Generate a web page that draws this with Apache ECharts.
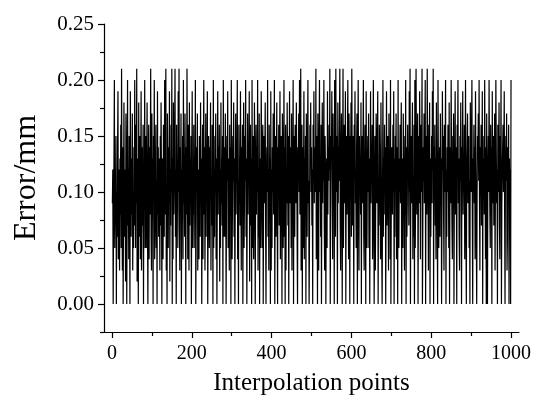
<!DOCTYPE html>
<html>
<head>
<meta charset="utf-8">
<script src="https://cdn.jsdelivr.net/npm/echarts@6/dist/echarts.min.js"></script>
<style>
html,body{margin:0;padding:0;background:#fff;}
#chart{width:537px;height:396px;}
</style>
</head>
<body>
<div id="chart"></div>
<script>
// Error (mm) at each interpolation point 1..1000 (read/estimated from the picture)
const errors = [
.09,.12,0,.08,.13,.20,.05,.11,.07,.15,0,.10,.06,.14,.19,.04,.12,.09,.03,.13,
.08,.16,.05,.21,.11,.03,.14,0,.09,.18,.06,.12,.10,.02,.17,.13,0,.08,.20,.07,
.12,.04,.15,.09,0,.19,.11,.06,.13,.08,.17,.03,.10,.05,.14,.07,.20,.12,.05,.16,
.09,.21,.02,.13,.10,0,.18,.06,.12,.15,.04,.11,.19,.03,.08,.14,.07,.16,0,.12,
.10,.20,.05,.09,.15,.05,.13,.18,.07,0,.11,.16,.04,.14,.08,.12,.21,.06,.03,.17,
.09,.13,0,.15,.10,.20,.04,.07,.12,.16,.05,.11,0,.19,.08,.14,.06,.13,.10,.03,
.15,.07,.18,.11,0,.13,.09,.04,.16,.12,.06,.20,.08,.14,.21,.03,.10,0,.17,.11,
.05,.14,.09,.19,.02,.12,.07,.16,.10,.21,0,.13,.04,.18,.08,.11,.15,.21,.06,.12,
0,.16,.09,.13,.05,.19,.10,.21,.07,.03,.14,.11,.17,0,.12,.08,.15,.04,.20,.09,
.13,.06,.17,.11,0,.14,.08,.21,.12,.04,.16,.10,.03,.18,.07,.13,.09,.15,0,.11,
.19,.05,.12,.08,.16,.05,.13,.10,.20,0,.07,.14,.11,.17,.03,.12,.09,.04,.15,.10,
.06,.18,.11,.13,0,.09,.16,.04,.12,.20,.08,.14,.03,.10,.17,.06,.13,.11,.19,0,
.08,.15,.12,.05,.14,.10,.18,.03,.11,.07,.16,.13,0,.20,.05,.12,.06,.15,.10,.17,
.04,.13,0,.11,.19,.08,.14,.10,.16,.02,.12,.05,.18,.09,.13,.07,.15,0,.20,.06,
.10,.14,.06,.17,.12,0,.09,.15,.11,.19,.05,.13,.08,.03,.16,.10,.14,0,.20,.12,
.04,.09,.15,.11,.18,.06,.13,0,.10,.17,.08,.14,.12,.20,.04,.11,0,.16,.09,.13,
.07,.19,.11,.03,.14,.10,.16,0,.12,.18,.05,.09,.15,.11,.20,.06,.13,0,.10,.17,
.08,.14,.12,.19,.02,.11,.16,.07,.13,0,.20,.05,.12,.15,.04,.10,.18,.13,0,.11,
.16,.08,.14,.10,.20,.03,.12,.06,.17,0,.13,.05,.09,.19,.14,.05,.12,.16,0,.10,
.15,.09,.13,.18,.07,0,.11,.14,.10,.20,.06,.12,.03,.16,.09,.13,0,.19,.03,.12,
.05,.14,.10,.17,.08,.13,.20,0,.11,.15,.06,.12,.18,.09,0,.14,.11,.16,.07,.13,
.19,.04,.10,.15,.12,0,.17,.13,.05,.11,.20,.06,.14,0,.16,.03,.12,.09,.18,.13,
.07,.15,0,.11,.19,.09,.14,.12,.05,.17,.03,.10,.13,.20,0,.15,.11,.06,.16,.12,
.09,.18,.13,.06,0,.14,.11,.17,.10,.20,.08,.13,.21,.03,.12,.16,0,.14,.05,.11,
.19,.04,.13,.10,.15,0,.17,.12,.06,.14,.20,.09,.11,0,.06,.16,.13,.18,.10,.14,
.07,.12,0,.16,.11,.19,.09,.14,.13,.10,.21,.04,.15,.12,0,.17,.11,.03,.14,.20,
.10,.13,.06,.16,0,.12,.18,.09,.14,.11,.20,.07,.03,.15,.12,0,.10,.13,.05,.19,
.08,.14,.11,.16,.12,.21,0,.10,.15,.13,.19,.09,.04,.17,.11,.14,0,.20,.12,.06,
.21,.10,.15,.12,0,.18,.09,.14,.11,.16,.21,.07,.03,.13,.17,.10,0,.12,.21,.05,
.11,.16,.09,.13,.19,0,.12,.15,.08,.14,.20,.10,.04,.17,.12,0,.15,.11,.18,.06,
.21,.12,.07,.15,.10,0,.16,.13,.19,.09,.11,.05,.14,.17,0,.12,.20,.10,.03,.15,
.11,.13,.08,.18,0,.12,.15,.09,.14,.20,.06,.03,.11,.16,.10,0,.19,.08,.05,.12,
.15,.10,.17,.05,.13,0,.11,.19,.09,.14,.12,.16,.04,.08,.20,.11,0,.06,.15,.03,
.10,.17,.12,.09,.14,.19,0,.11,.07,.16,.13,.10,.04,.18,.12,.05,0,.09,.20,.06,
.13,.08,.16,.11,.14,0,.10,.19,.07,.12,.15,.09,.03,.17,.11,.13,.04,.20,0,.10,
.14,.12,.08,.16,.10,.19,0,.13,.06,.15,.11,.17,.04,.09,.14,0,.20,.07,.05,.13,
.10,.16,.09,.14,.18,0,.11,.13,.05,.17,.12,.10,.03,.15,.08,.20,0,.14,.06,.09,
.16,.11,.13,.07,.19,.10,.21,0,.12,.15,.09,.14,.18,.04,.11,.06,.16,0,.20,.05,
.10,.21,.14,.08,.12,.17,0,.11,.15,.09,.19,.13,.04,.16,.10,.12,.21,0,.07,.14,
.11,.17,.09,.13,.20,0,.12,.15,.08,.21,.14,.10,.03,.16,.12,.18,0,.13,.06,.11,
.15,.09,.19,.12,.21,0,.14,.10,.16,.07,.13,.04,.18,.11,.09,0,.20,.12,.05,.10,
.14,.06,.17,.11,.13,0,.09,.19,.12,.15,.08,.03,.16,.10,.13,.20,0,.12,.06,.14,
.10,.16,.13,.05,.18,0,.11,.14,.09,.20,.12,.07,.04,.15,.11,.17,0,.10,.13,.19,
.08,.14,.11,0,.16,.12,.20,.09,.13,.06,.03,.15,.11,.18,.10,0,.14,.12,.19,.08,
.13,.10,.16,.04,.11,.20,.07,0,.12,.14,.17,.09,.13,.15,.05,.11,0,.18,.12,.10,
.15,.20,.08,0,.13,.11,.16,.09,.14,.04,.19,.12,.06,0,.10,.15,.13,.17,.11,.20,
.09,.03,.14,.12,.16,.07,.11,.19,0,.13,.10,.15,.08,.20,.12,.04,.14,0,.17,.06,
0,.12,.15,.10,.20,.13,.08,.05,.16,.11,.14,0,.19,.09,.12,.15,.07,.13,.17,.03,
.11,.20,.14,.09,.12,0,.16,.10,.13,.18,.07,.04,.15,.11,.20,0,.09,.12,.14,.16,
.10,.13,.19,.08,0,.12,.15,.11,.17,.03,.06,.14,.10,.16,0,.13,.09,.12,0,.20
];
const xTickLabels = [0, 200, 400, 600, 800, 1000];
const xMinorTicks = [100, 300, 500, 700, 900];
const yTickLabels = [0, 0.05, 0.10, 0.15, 0.20, 0.25];
const yMinorTicks = [-0.025, 0.025, 0.075, 0.125, 0.175, 0.225];
const xTitle = 'Interpolation points';
const yTitle = 'Error/mm';

const FONT = "'Liberation Serif', 'Times New Roman', serif";
const seriesData = errors.map((v, i) => [i + 1, v]);

const chart = echarts.init(document.getElementById('chart'), null, {renderer: 'canvas'});
const grid = {left: 104, right: 18, top: 24, bottom: 64, containLabel: false, outerBoundsMode: 'none'};
const baseX = {type: 'value', min: -20, max: 1020, gridIndex: 0, position: 'bottom', offset: 0, splitLine: {show: false}};
const baseY = {type: 'value', min: -0.025, max: 0.25, gridIndex: 0, position: 'left', offset: 0, splitLine: {show: false}};
chart.setOption({
  animation: false,
  backgroundColor: '#fff',
  grid: grid,
  xAxis: [
    Object.assign({}, baseX, {
      name: xTitle, nameLocation: 'middle', nameGap: 39,
      nameTextStyle: {fontFamily: FONT, fontSize: 25, color: '#000'},
      axisLine: {show: true, onZero: false, lineStyle: {color: '#000', width: 1.2}},
      axisTick: {show: true, inside: false, length: 6, customValues: xTickLabels, lineStyle: {color: '#000', width: 1.2}},
      axisLabel: {show: true, margin: 12, customValues: xTickLabels, fontFamily: FONT, fontSize: 20, color: '#000',
        formatter: v => String(Math.round(v))}
    }),
    Object.assign({}, baseX, {
      axisLine: {show: false, onZero: false},
      axisTick: {show: true, inside: false, length: 4, customValues: xMinorTicks, lineStyle: {color: '#000', width: 1.2}},
      axisLabel: {show: false}
    })
  ],
  yAxis: [
    Object.assign({}, baseY, {
      name: yTitle, nameLocation: 'middle', nameGap: 61,
      nameTextStyle: {fontFamily: FONT, fontSize: 32, color: '#000'},
      axisLine: {show: true, onZero: false, lineStyle: {color: '#000', width: 1.2}},
      axisTick: {show: true, inside: false, length: 6, customValues: yTickLabels, lineStyle: {color: '#000', width: 1.2}},
      axisLabel: {show: true, margin: 10, customValues: yTickLabels, fontFamily: FONT, fontSize: 21, color: '#000',
        formatter: v => Number(v).toFixed(2)}
    }),
    Object.assign({}, baseY, {
      axisLine: {show: false, onZero: false},
      axisTick: {show: true, inside: false, length: 4, customValues: yMinorTicks, lineStyle: {color: '#000', width: 1.2}},
      axisLabel: {show: false}
    })
  ],
  series: [{
    type: 'line',
    xAxisIndex: 0, yAxisIndex: 0,
    data: seriesData,
    showSymbol: false,
    symbol: 'none',
    lineStyle: {color: '#000', width: 1.2},
    emphasis: {disabled: true}
  }]
});
</script>
</body>
</html>
